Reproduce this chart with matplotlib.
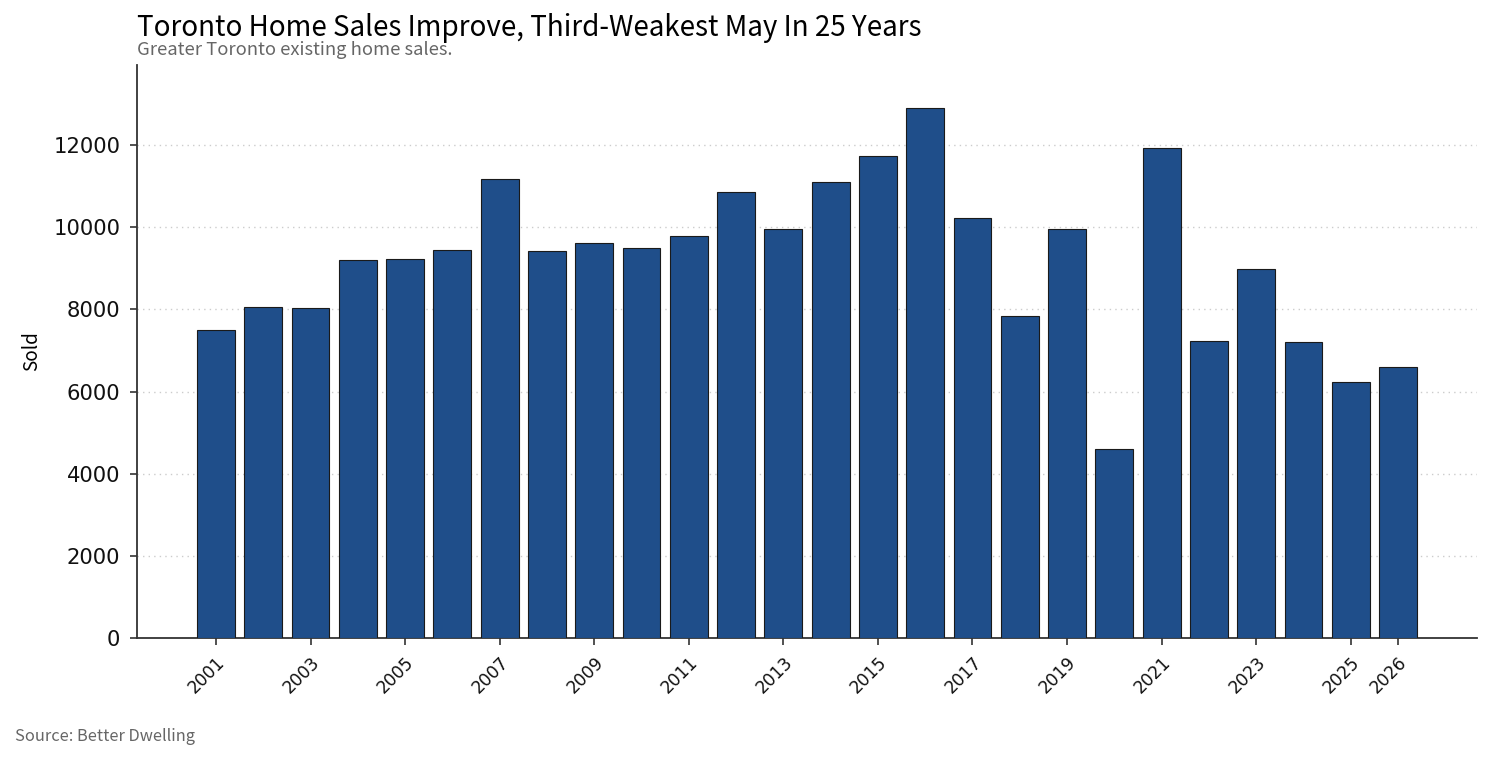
import matplotlib.pyplot as plt
import numpy as np

plt.rcParams['font.family'] = ['DejaVu Sans']
txt_font = ['Noto Sans CJK KR', 'DejaVu Sans']

years = list(range(2001, 2027))
sold = [7500, 8050, 8030, 9200, 9225, 9440, 11170, 9420, 9615, 9490,
        9785, 10855, 9955, 11100, 11730, 12900, 10225, 7840, 9955, 4600,
        11930, 7230, 8980, 7205, 6230, 6600]
tick_years = [2001, 2003, 2005, 2007, 2009, 2011, 2013, 2015, 2017, 2019,
              2021, 2023, 2025, 2026]

fig = plt.figure(figsize=(14.92, 7.59), dpi=100)
ax = fig.add_axes([137/1492, 1 - 638/759, (1477 - 137)/1492, (638 - 65)/759])

ax.bar(years, sold, width=0.8, color='#1f4e8a', edgecolor='#1a1a1a', linewidth=0.8, zorder=3)

ax.set_xlim(2001 - 1.67, 2026 + 1.67)
ax.set_ylim(0, 13950)
ax.set_yticks(np.arange(0, 13000, 2000))
ax.set_xticks(tick_years)
ax.set_xticklabels([str(y) for y in tick_years], rotation=45, ha='right', rotation_mode='anchor')
ax.tick_params(axis='both', color='#333333', length=5, width=1.2, labelcolor='#111111')
ax.tick_params(axis='x', labelsize=13.5, pad=6)
ax.tick_params(axis='y', labelsize=15.5, pad=7)

ax.yaxis.grid(True, linestyle=(0, (1, 3)), color='#cccccc', linewidth=1, zorder=0)
ax.set_axisbelow(True)
for s in ['top', 'right']:
    ax.spines[s].set_visible(False)
for s in ['left', 'bottom']:
    ax.spines[s].set_color('#333333')
    ax.spines[s].set_linewidth(1.3)

ax.set_ylabel('Sold', fontsize=15.5, family=txt_font)
ax.yaxis.set_label_coords(-0.071, 0.5)

title = fig.text(137/1492, 1 - 36/759, 'Toronto Home Sales Improve, Third-Weakest May In 25 Years',
                 fontsize=20, va='baseline', ha='left', color='black', family=txt_font)
sub = fig.text(137/1492, 1 - 55/759, 'Greater Toronto existing home sales.',
               fontsize=13.3, va='baseline', ha='left', color='#666666', family=txt_font)
src = fig.text(15/1492, 1 - 741/759, 'Source: Better Dwelling',
               fontsize=11.9, va='baseline', ha='left', color='#666666', family=txt_font)

# scale text so its rendered size matches the reference widths (px)
fig.canvas.draw()
r = fig.canvas.get_renderer()
ylab = [t for t in ax.get_yticklabels() if t.get_text() == '12000'][0]
w = ylab.get_window_extent(r).width
ax.tick_params(axis='y', labelsize=15.5 * 67 / w)
xlab = [t for t in ax.get_xticklabels() if t.get_text() == '2019'][0]
w = xlab.get_window_extent(r).width
ax.tick_params(axis='x', labelsize=13.5 * 43 / w)
for t, target in [(title, 785), (sub, 316), (src, 180)]:
    t.set_fontsize(t.get_fontsize() * target / t.get_window_extent(r).width)
yl = ax.yaxis.label
yl.set_fontsize(yl.get_fontsize() * 40 / yl.get_window_extent(r).height)

fig.savefig('out.png', dpi=100)
